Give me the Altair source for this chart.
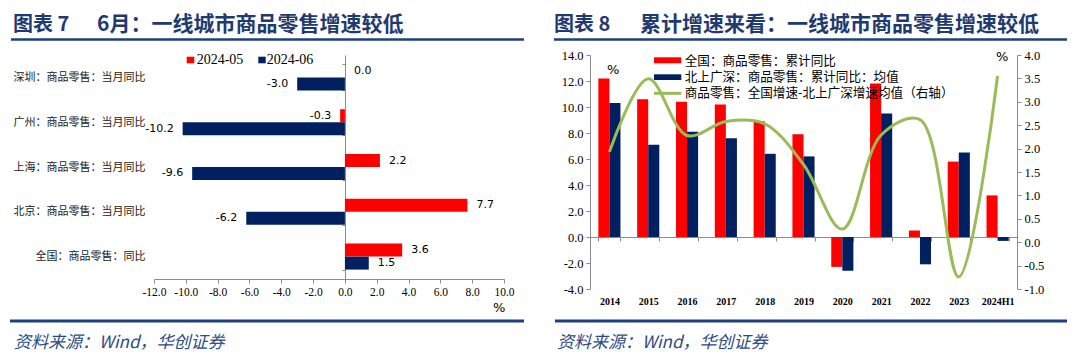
import altair as alt
import pandas as pd

# ---------------- data ----------------
cats = ["深圳：商品零售：当月同比", "广州：商品零售：当月同比", "上海：商品零售：当月同比",
        "北京：商品零售：当月同比", "全国：商品零售：同比"]
series_l = ["2024-05", "2024-06"]
may_vals = [0.0, -0.3, 2.2, 7.7, 3.6]
jun_vals = [-3.0, -10.2, -9.6, -6.2, 1.5]

years = ["2014", "2015", "2016", "2017", "2018", "2019", "2020", "2021", "2022", "2023", "2024H1"]
series_r = ["全国：商品零售：累计同比", "北上广深：商品零售：累计同比：均值"]
line_name = "商品零售：全国增速-北上广深增速均值（右轴）"
national = [12.2, 10.6, 10.4, 10.2, 8.9, 7.9, -2.3, 11.8, 0.5, 5.8, 3.2]
tier1 = [10.3, 7.1, 8.1, 7.6, 6.4, 6.2, -2.6, 9.5, -2.1, 6.5, -0.3]
gap = [1.93, 3.49, 2.28, 2.58, 2.53, 1.66, 0.28, 2.29, 2.62, -0.74, 3.55]

RED = "#FF0000"
NAVY = "#002060"
GREEN = "#9BBB59"
TITLE_C = "#1F3A70"
LINE_C = "#1F3F7F"
AX_C = "#8C8C8C"
CJK = "Noto Sans CJK SC"
SERIF = "Liberation Serif"
LBL = "replace(format(datum.value, '.1f'), '\u2212', '-')"

df_l = pd.DataFrame({
    "cat": cats * 2,
    "series": [series_l[0]] * len(cats) + [series_l[1]] * len(cats),
    "value": may_vals + jun_vals,
})
df_r = pd.DataFrame({
    "year": years * 2,
    "series": [series_r[0]] * len(years) + [series_r[1]] * len(years),
    "value": national + tier1,
})
df_g = pd.DataFrame({"year": years, "gap": gap})
one = pd.DataFrame({"k": [0]})


def vtext(s, x, y, size, font, color="#000000", align="left", weight="normal", style="normal"):
    return alt.Chart(one).mark_text(text=s, align=align, baseline="middle", font=font, fontSize=size,
                                    fontWeight=weight, fontStyle=style, color=color).encode(
        x=alt.value(x), y=alt.value(y))


def hrule(x1, x2, y, color, w):
    return alt.Chart(one).mark_rule(color=color, strokeWidth=w).encode(
        x=alt.value(x1), x2=alt.value(x2), y=alt.value(y))


def box(x1, x2, y1, y2, color, opacity=1.0):
    return alt.Chart(one).mark_rect(color=color, opacity=opacity).encode(
        x=alt.value(x1), x2=alt.value(x2), y=alt.value(y1), y2=alt.value(y2))


# ---------------- left panel ----------------
WL, HL = 350, 224
xl = alt.X("value:Q", scale=alt.Scale(domain=[-12, 10], nice=False, zero=False),
           axis=alt.Axis(values=list(range(-12, 11, 2)), labelExpr=LBL, title=None, grid=False,
                         domainColor=AX_C, tickColor=AX_C, tickSize=4, labelFont=SERIF,
                         labelFontSize=11.5, labelColor="#000000", labelPadding=3,
                         labelOverlap=False, labelFlush=False))
yl = alt.Y("cat:N", sort=cats, scale=alt.Scale(paddingInner=0.42, paddingOuter=0.21),
           axis=alt.Axis(title=None, orient="left", offset=-191, domainColor=AX_C, tickColor=AX_C,
                         tickSize=3, tickBand="extent", labelPadding=197, labelFont=CJK,
                         labelFontSize=11, labelColor="#222222", grid=False))
yol = alt.YOffset("series:N", sort=series_l, scale=alt.Scale(paddingInner=0, paddingOuter=0))

bars_l = alt.Chart(df_l).mark_bar().encode(
    x=xl, y=yl, yOffset=yol,
    color=alt.Color("series:N", scale=alt.Scale(domain=series_l, range=[RED, NAVY]), legend=None))
lab_pos = alt.Chart(df_l).transform_filter("datum.value >= 0").transform_calculate(lbl=LBL).mark_text(
    align="left", baseline="middle", dx=9, font="DejaVu Sans", fontSize=11, color="#000000").encode(
    x=xl, y=yl, yOffset=yol, text="lbl:N")
lab_neg = alt.Chart(df_l).transform_filter("datum.value < 0").transform_calculate(lbl=LBL).mark_text(
    align="right", baseline="middle", dx=-9, font="DejaVu Sans", fontSize=11, color="#000000").encode(
    x=xl, y=yl, yOffset=yol, text="lbl:N")

left = alt.layer(
    bars_l, lab_pos, lab_neg,
    box(-146, -145, -47, -46, "#ffffff", 0),
    box(-146, -145, 303, 304, "#ffffff", 0),
    vtext("图表 7", -141, -30, 20, CJK, TITLE_C, weight="bold"),
    vtext("6月：一线城市商品零售增速较低", -57, -30, 21, CJK, TITLE_C, weight="bold"),
    hrule(-143, 370, -15.5, LINE_C, 2.5),
    hrule(-144, 370, 266, LINE_C, 3),
    vtext("资料来源：Wind，华创证券", -140, 288, 17, CJK, "#2E4A86", style="italic"),
    box(32.7, 40.3, 1.7, 8.3, RED),
    vtext(series_l[0], 42.7, 5, 14, SERIF),
    box(104.3, 111.7, 1.7, 8.3, NAVY),
    vtext(series_l[1], 112.7, 5, 14, SERIF),
    vtext("%", 339, 253, 13, "DejaVu Sans"),
).properties(width=WL, height=HL)

# ---------------- right panel ----------------
WR, HR = 427, 234
xr = alt.X("year:N", sort=years, scale=alt.Scale(paddingInner=0.43, paddingOuter=0.215),
           axis=alt.Axis(title=None, labelAngle=0, offset=-52, labelPadding=55, tickBand="extent",
                         tickSize=4, domainColor=AX_C, tickColor=AX_C, labelFont=SERIF,
                         labelFontSize=10, labelFontWeight="bold", labelColor="#000000", grid=False))
bars_r = alt.Chart(df_r).mark_bar().encode(
    x=xr,
    xOffset=alt.XOffset("series:N", sort=series_r, scale=alt.Scale(paddingInner=0, paddingOuter=0)),
    y=alt.Y("value:Q", scale=alt.Scale(domain=[-4, 14], nice=False),
            axis=alt.Axis(title=None, orient="left", values=list(range(-4, 15, 2)), labelExpr=LBL,
                          grid=False, domainColor=AX_C, tickColor=AX_C, tickSize=4, labelFont=SERIF,
                          labelFontSize=12.5, labelColor="#000000", labelPadding=3, labelOverlap=False)),
    color=alt.Color("series:N", scale=alt.Scale(domain=series_r, range=[RED, NAVY]), legend=None))
line_r = alt.Chart(df_g).mark_line(color=GREEN, strokeWidth=3, interpolate="catmull-rom").encode(
    x=xr,
    y=alt.Y("gap:Q", scale=alt.Scale(domain=[-1, 4], nice=False, zero=False),
            axis=alt.Axis(title=None, orient="right", values=[v / 2 for v in range(-2, 9)], labelExpr=LBL,
                          grid=False, domainColor=AX_C, tickColor=AX_C, tickSize=4, labelFont=SERIF,
                          labelFontSize=12.5, labelColor="#000000", labelPadding=3, labelOverlap=False)))

right = alt.layer(
    bars_r, line_r,
    box(-37, -36, -47, -46, "#ffffff", 0),
    vtext("图表 8", -36, -30, 20, CJK, TITLE_C, weight="bold"),
    vtext("累计增速来看：一线城市商品零售增速较低", 50, -30, 21, CJK, TITLE_C, weight="bold"),
    hrule(-36, 477, -15.5, LINE_C, 2.5),
    hrule(-35, 477, 266, LINE_C, 3),
    vtext("资料来源：Wind，华创证券", -33, 288, 17, CJK, "#2E4A86", style="italic"),
    box(64, 91.3, 2.3, 8.3, RED),
    vtext(series_r[0], 94.7, 5.7, 12.6, CJK),
    box(64, 91.3, 19.3, 25, NAVY),
    vtext(series_r[1], 94.7, 22.3, 12.6, CJK),
    hrule(64, 91.3, 38.3, GREEN, 3),
    vtext(line_name, 94.7, 38.3, 12.6, CJK),
    vtext("%", 17, 15, 13, "DejaVu Sans"),
    vtext("%", 406, 2, 13, "DejaVu Sans"),
).resolve_scale(y="independent").properties(width=WR, height=HR)

chart = alt.hconcat(left, right, spacing=26).properties(padding=0).configure_view(stroke=None)

chart.save("out.html", embed_options={"renderer": "svg", "actions": False})
